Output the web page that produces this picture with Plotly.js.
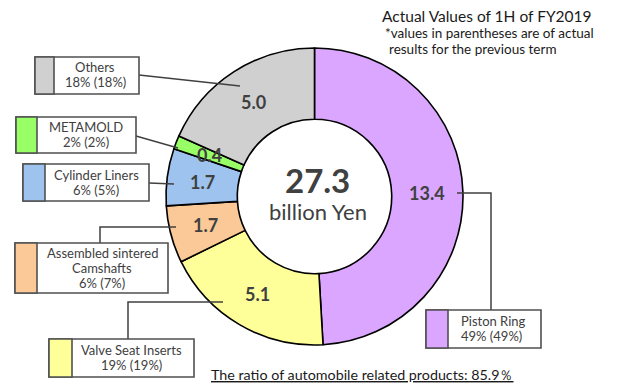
<!DOCTYPE html>
<html>
<head>
<meta charset="utf-8">
<script src="https://cdn.plot.ly/plotly-3.0.1.min.js"></script>
<style>html,body{margin:0;padding:0;background:#fff;}#chart{width:633px;height:390px;}</style>
</head>
<body>
<div id="chart"></div>
<script>
// ---- data ----
var categories = ["Piston Ring", "Valve Seat Inserts", "Assembled sintered Camshafts", "Cylinder Liners", "METAMOLD", "Others"];
var labelLines = [["Piston Ring"], ["Valve Seat Inserts"], ["Assembled sintered", "Camshafts"], ["Cylinder Liners"], ["METAMOLD"], ["Others"]];
var values = [13.4, 5.1, 1.7, 1.7, 0.4, 5.0];
var shareNow = ["49%", "19%", "6%", "6%", "2%", "18%"];
var sharePrev = ["49%", "19%", "7%", "5%", "2%", "18%"];
var totalText = "27.3";
var unitText = "billion Yen";
var titleLines = ["Actual Values of 1H of FY2019", "*values in parentheses are of actual", "results for the previous term"];
var footText = "The ratio of automobile related products: 85.9％";

// ---- style / layout ----
var colors = ["#DAA6FF", "#FFFF99", "#FBC997", "#9DC3EE", "#99FF66", "#D0D0D0"];
var W = 633, H = 390;
var CX = 314.5, CY = 196.5, R = 148.5, HOLE = 0.52;
function px(x) { return x / W; }
function py(y) { return 1 - y / H; }

// callout boxes: [x0,y0,x1,y1], swatch right edge, text x, text anchor, first-line y, leader polyline
var boxes = [
  {b: [426, 310, 541, 348], sw: 448, tx: 459, anchor: "left", ty: 321, lead: [[457, 193], [491, 193], [491, 310]]},
  {b: [49, 339, 194, 377], sw: 72, tx: 131, anchor: "center", ty: 350, lead: [[223, 302], [128, 302], [128, 339]]},
  {b: [15, 243, 168, 293], sw: 37, tx: 102, anchor: "center", ty: 253, lead: [[176, 227], [100, 227], [100, 243]]},
  {b: [23, 164, 149, 201], sw: 45, tx: 96, anchor: "center", ty: 175, lead: [[149, 183], [174, 184]]},
  {b: [16, 117, 136, 153], sw: 37, tx: 86, anchor: "center", ty: 127, lead: [[136, 136], [178, 148]]},
  {b: [35, 57, 139, 94], sw: 54, tx: 95, anchor: "center", ty: 67, lead: [[139, 75], [240, 86]]}
];
var lineGap = 15;
var boxFont = {family: "Lato, 'Noto Sans', sans-serif", size: 13, color: "#404040"};
var sliceFont = {family: "Lato, 'Noto Sans', sans-serif", size: 18, color: "#404040", weight: "bold"};

var shapes = [];
var annotations = [];

// slice value labels placed at mid-angle of each slice (clockwise from 12 o'clock)
var total = values.reduce(function (a, b) { return a + b; }, 0);
var cum = 0;
var rMid = R * (1 + HOLE) / 2;
values.forEach(function (v, i) {
  var mid = (cum + v / 2) / total * 2 * Math.PI;
  cum += v;
  var x = CX + rMid * Math.sin(mid);
  var y = CY - rMid * Math.cos(mid);
  annotations.push({x: px(x), y: py(y), xref: "paper", yref: "paper", showarrow: false,
    text: "<b>" + v.toFixed(1) + "</b>", font: sliceFont, xanchor: "center", yanchor: "middle"});
});

boxes.forEach(function (bx, i) {
  var b = bx.b;
  var d = "M " + bx.lead.map(function (p) { return px(p[0]) + "," + py(p[1]); }).join(" L ");
  shapes.push({type: "path", xref: "paper", yref: "paper", path: d, line: {color: "#404040", width: 1.5}});
  shapes.push({type: "rect", xref: "paper", yref: "paper", x0: px(b[0]), x1: px(b[2]), y0: py(b[1]), y1: py(b[3]),
    fillcolor: "#ffffff", line: {color: "#505050", width: 1.6}});
  shapes.push({type: "rect", xref: "paper", yref: "paper", x0: px(b[0]), x1: px(bx.sw), y0: py(b[1]), y1: py(b[3]),
    fillcolor: colors[i], line: {color: "#505050", width: 1.6}});
  var lines = labelLines[i].concat([shareNow[i] + " (" + sharePrev[i] + ")"]);
  lines.forEach(function (t, k) {
    annotations.push({x: px(bx.tx), y: py(bx.ty + k * lineGap), xref: "paper", yref: "paper", showarrow: false,
      text: t, font: boxFont, xanchor: bx.anchor, yanchor: "middle"});
  });
});

// center text
annotations.push({x: px(CX + 3), y: py(180), xref: "paper", yref: "paper", showarrow: false,
  text: "<b>" + totalText + "</b>", font: {family: "Lato, 'Noto Sans', sans-serif", size: 33, color: "#404040"}, xanchor: "center", yanchor: "middle"});
annotations.push({x: px(CX + 3), y: py(212), xref: "paper", yref: "paper", showarrow: false,
  text: unitText, font: {family: "Lato, 'Noto Sans', sans-serif", size: 22, color: "#404040"}, xanchor: "center", yanchor: "middle"});

// title lines
var titlePos = [[380, 16, 15.5], [383, 32.5, 13.5], [387, 48.5, 13.5]];
titleLines.forEach(function (t, k) {
  annotations.push({x: px(titlePos[k][0]), y: py(titlePos[k][1]), xref: "paper", yref: "paper", showarrow: false,
    text: t, font: {family: "Lato, 'Noto Sans', sans-serif", size: titlePos[k][2], color: "#1a1a1a"}, xanchor: "left", yanchor: "middle"});
});

// footer
annotations.push({x: px(209), y: py(374), xref: "paper", yref: "paper", showarrow: false,
  text: "<u>" + footText + "</u>", font: {family: "Lato, 'Noto Sans', sans-serif", size: 14.3, color: "#1a1a1a"}, xanchor: "left", yanchor: "middle"});

var trace = {
  type: "pie",
  labels: categories,
  values: values,
  hole: HOLE,
  sort: false,
  direction: "clockwise",
  rotation: 0,
  textinfo: "none",
  hoverinfo: "label+value",
  marker: {colors: colors, line: {color: "#000000", width: 1.6}},
  domain: {x: [px(CX - R), px(CX + R)], y: [py(CY + R), py(CY - R)]},
  showlegend: false
};

var layout = {
  width: W, height: H,
  margin: {l: 0, r: 0, t: 0, b: 0},
  paper_bgcolor: "#ffffff",
  plot_bgcolor: "#ffffff",
  showlegend: false,
  shapes: shapes,
  annotations: annotations
};

Plotly.newPlot("chart", [trace], layout, {displayModeBar: false, staticPlot: true});
</script>
</body>
</html>
